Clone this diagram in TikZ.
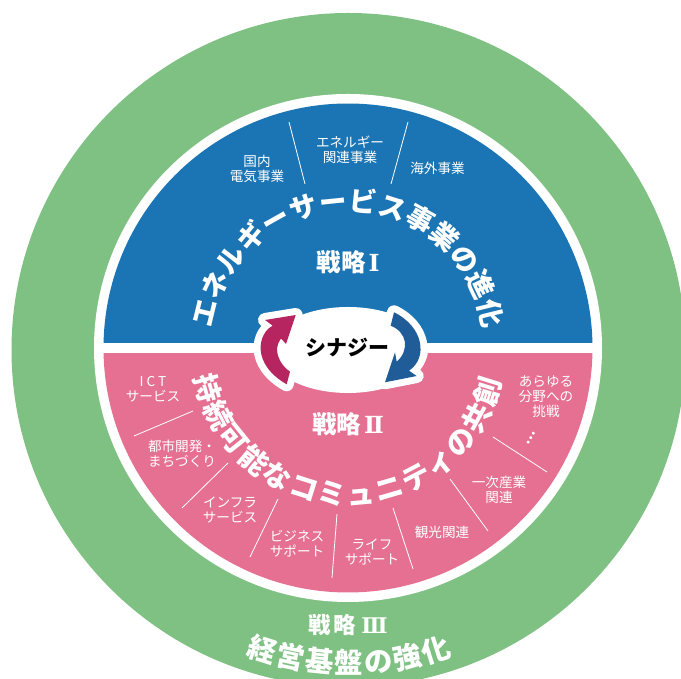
\documentclass[tikz,border=0pt]{standalone}
\usepackage{fontspec}
\setmainfont{Noto Sans CJK JP}
\newfontfamily\jpwide[LetterSpace=22]{Noto Sans CJK JP}
\newfontfamily\romanfont[Scale=0.96]{DejaVu Serif}
\usetikzlibrary{decorations.text}
\definecolor{ringgreen}{HTML}{7FC183}
\definecolor{halfblue}{HTML}{1B75B4}
\definecolor{halfpink}{HTML}{E57092}
\definecolor{arrowred}{HTML}{B72561}
\definecolor{arrowblue}{HTML}{1F5C98}
\tikzstyle{lab} = [text=white, align=center, inner sep=0pt, font=\fontsize{13.6}{15}\selectfont]
\tikzstyle{strat} = [text=white, inner sep=0pt, font=\bfseries\fontsize{24.5}{26}\selectfont]
\tikzstyle{sep} = [white, line width=0.8pt]
\tikzstyle{halo} = [draw=white, line width=14pt, line join=round]
\newcommand{\arctop}{\bfseries\fontsize{27.5}{27.5}\selectfont\color{white}}
\newcommand{\arctext}{\bfseries\fontsize{28.5}{28.5}\selectfont\color{white}}
\newcommand{\romannum}[1]{\hspace{3pt}{\romanfont\bfseries #1}}
\begin{document}
\begin{tikzpicture}[x=1pt,y=1pt]
\useasboundingbox (0,0) rectangle (681,679);
\clip (0,0) rectangle (681,679);
\fill[white] (0,0) rectangle (681,679);
\fill[ringgreen] (348.5,329) circle (337);
\fill[white] (348,331) circle (254);
% the two half discs
\fill[halfblue,shift={(348,331)}] (178.8:244.5) arc (178.8:1.2:244.5) -- cycle;
\fill[halfpink,shift={(348,331)}] (-178.8:244.5) arc (-178.8:-1.2:244.5) -- cycle;
% separators
\coordinate (s1a) at (289,557); \coordinate (s1b) at (305,495);
\coordinate (s2a) at (408,557); \coordinate (s2b) at (391,495);
\coordinate (s3a) at (193,268); \coordinate (s3b) at (134,243);
\coordinate (s4a) at (228,216); \coordinate (s4b) at (182,171);
\coordinate (s5a) at (278,180); \coordinate (s5b) at (250,122);
\coordinate (s6a) at (337,165); \coordinate (s6b) at (332,101);
\coordinate (s7a) at (393,171); \coordinate (s7b) at (413,110);
\coordinate (s8a) at (450,200); \coordinate (s8b) at (488,148);
\coordinate (s9a) at (493,242); \coordinate (s9b) at (547,207);
\foreach \i in {1,...,9}
	\draw[sep] (s\i a) -- (s\i b);
% labels
\node[lab] (kokunai) at (257,510) {国内\\電気事業};
\node[lab] (kanren) at (350,529.5) {エネルギー\\関連事業};
\node[lab] (kaigai) at (437.5,511) {海外事業};
\node[lab] (ict) at (153,289.5) {{\jpwide ICT}\\サービス};
\node[lab] (toshi) at (182,225.5) {都市開発・\\まちづくり};
\node[lab] (infra) at (230,169.5) {インフラ\\サービス};
\node[lab] (biz) at (297,135.5) {ビジネス\\サポート};
\node[lab] (life) at (372,127.5) {ライフ\\サポート};
\node[lab] (kanko) at (442,147) {観光関連};
\node[lab] (ichiji) at (499,189.5) {一次産業\\関連};
\node[lab] (arayuru) at (546,282) {あらゆる\\分野への\\挑戦};
\node[lab,rotate=60] (dots) at (531,241) {\textbf{…}};
\node[strat] (s1) at (348,417) {戦略\romannum{Ⅰ}};
\node[strat] (s2) at (348,255) {戦略\romannum{Ⅱ}};
\node[strat,font=\bfseries\fontsize{22.5}{24}\selectfont] (s3) at (348,54) {戦\hspace{3pt}略\romannum{\hspace{2pt}Ⅲ}};
% curved titles
\path[shift={(348,331)},decorate,decoration={text along path,text align={fit to path},
	text={|\arctop|エネルギーサービス事業の進化}}] (172:137) arc (172:8:137);
\path[shift={(348,331)},decorate,decoration={text along path,text align={fit to path},
	text={|\arctext|持続可能なコミュニティの共創}}] (190.9:157) arc (190.9:348:157);
\path[shift={(349,303)},decorate,decoration={text along path,text align={fit to path},
	text={|\arctext|経営基盤の強化}}] (249.7:298) arc (249.7:290.3:298);
% centre
\fill[white] (348,329) ellipse (80 and 43);
\draw[halo,fill=arrowred] (295.7,364) -- (265,359) -- (272.7,353.3)
	.. controls (258,346) and (250.7,315.3) .. (286.7,294.7) -- (290,307.3)
	.. controls (280,314) and (272,329) .. (281,340.5) -- (286,335) -- cycle;
\draw[halo,fill=arrowblue] (385,296.7) -- (416.7,303) -- (409,308.3)
	.. controls (428,321) and (424,352) .. (394,366.7) -- (390.7,353.3)
	.. controls (407,347) and (410,329) .. (396.7,317.3) -- (395,326.7) -- cycle;
\fill[arrowred] (295.7,364) -- (265,359) -- (272.7,353.3)
	.. controls (258,346) and (250.7,315.3) .. (286.7,294.7) -- (290,307.3)
	.. controls (280,314) and (272,329) .. (281,340.5) -- (286,335) -- cycle;
\fill[arrowblue] (385,296.7) -- (416.7,303) -- (409,308.3)
	.. controls (428,321) and (424,352) .. (394,366.7) -- (390.7,353.3)
	.. controls (407,347) and (410,329) .. (396.7,317.3) -- (395,326.7) -- cycle;
\node[inner sep=0pt,font=\bfseries\fontsize{21}{22}\selectfont] (syn) at (347,331) {シナジー};
\end{tikzpicture}
\end{document}
